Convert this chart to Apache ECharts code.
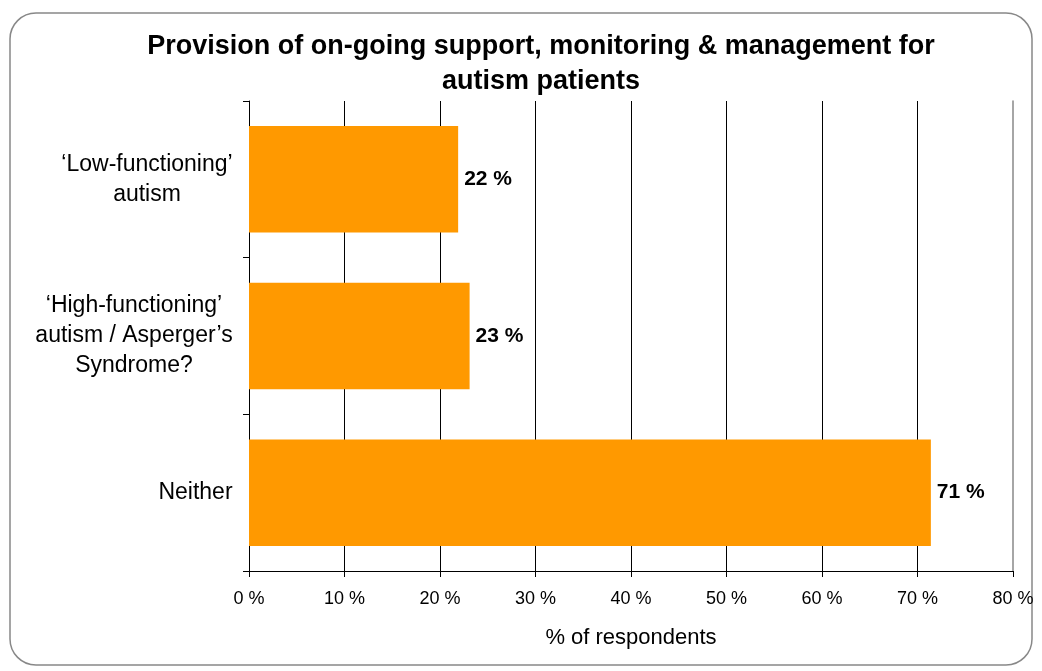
<!DOCTYPE html>
<html>
<head>
<meta charset="utf-8">
<script src="https://cdn.jsdelivr.net/npm/echarts@6/dist/echarts.min.js"></script>
<style>
  html, body { margin: 0; padding: 0; background: #fff; }
  #main { width: 1042px; height: 671px; }
</style>
</head>
<body>
<div id="main"></div>
<script>
// categories from top to bottom
var categories = [
  '\u2018Low-functioning\u2019\nautism',
  '\u2018High-functioning\u2019\nautism / Asperger\u2019s\nSyndrome?',
  'Neither'
];
var values = [21.9, 23.1, 71.4];
var tickValues = [0, 10, 20, 30, 40, 50, 60, 70, 80];

var FONT = 'Arial, "Liberation Sans", sans-serif';
var catFontSize = 23;

// measure each label so lines are centred inside a right-aligned block
var ctx = document.createElement('canvas').getContext('2d');
ctx.font = catFontSize + 'px ' + FONT;
var rich = {};
categories.forEach(function (c, i) {
  var w = 0;
  c.split('\n').forEach(function (l) { w = Math.max(w, ctx.measureText(l).width); });
  rich['c' + i] = { width: Math.ceil(w), align: 'center', fontSize: catFontSize, lineHeight: 30, color: '#000', fontFamily: FONT };
});

var chart = echarts.init(document.getElementById('main'));

var option = {
  backgroundColor: '#fff',
  animation: false,
  textStyle: { fontFamily: FONT },
  title: {
    text: 'Provision of on-going support, monitoring & management for\nautism patients',
    left: 536,
    textAlign: 'center',
    top: 24,
    textStyle: {
      fontSize: 27,
      fontWeight: 'bold',
      color: '#000',
      lineHeight: 35,
      fontFamily: FONT
    }
  },
  graphic: [{
    type: 'rect',
    shape: { x: 10, y: 13, width: 1022, height: 652, r: 26 },
    style: { fill: 'none', stroke: '#888', lineWidth: 1.5 },
    z: -1
  }],
  grid: { left: 249, right: 29, top: 101, bottom: 100, containLabel: false },
  xAxis: {
    type: 'value',
    min: tickValues[0],
    max: tickValues[tickValues.length - 1],
    interval: 10,
    name: '% of respondents',
    nameLocation: 'middle',
    nameGap: 56,
    nameTextStyle: { fontSize: 22, color: '#000' },
    axisLine: { show: true, lineStyle: { color: '#000', width: 1 } },
    axisTick: { show: true, length: 6, lineStyle: { color: '#000' } },
    axisLabel: {
      fontSize: 18, color: '#000', margin: 19,
      formatter: function (v) { return v + ' %'; }
    },
    splitLine: {
      show: true,
      showMaxLine: false,
      lineStyle: { color: '#000', width: 1 }
    }
  },
  yAxis: [{
    type: 'category',
    inverse: true,
    data: categories,
    axisLine: { show: true, lineStyle: { color: '#000', width: 1 } },
    axisTick: { show: true, length: 6, lineStyle: { color: '#000' } },
    axisLabel: {
      margin: 16,
      formatter: function (v, i) {
        return v.split('\n').map(function (l) { return '{c' + i + '|' + l + '}'; }).join('\n');
      },
      rich: rich
    }
  }, {
    type: 'category',
    inverse: true,
    position: 'right',
    data: categories,
    axisLine: { show: true, lineStyle: { color: '#888', width: 1.5 } },
    axisTick: { show: false },
    axisLabel: { show: false }
  }],
  series: [{
    type: 'bar',
    data: values,
    barCategoryGap: '32%',
    itemStyle: { color: '#FF9900' },
    label: {
      show: true,
      position: 'right',
      distance: 6,
      fontSize: 21,
      fontWeight: 'bold',
      color: '#000',
      formatter: function (p) { return Math.round(p.value) + ' %'; }
    }
  }]
};

chart.setOption(option);
</script>
</body>
</html>
